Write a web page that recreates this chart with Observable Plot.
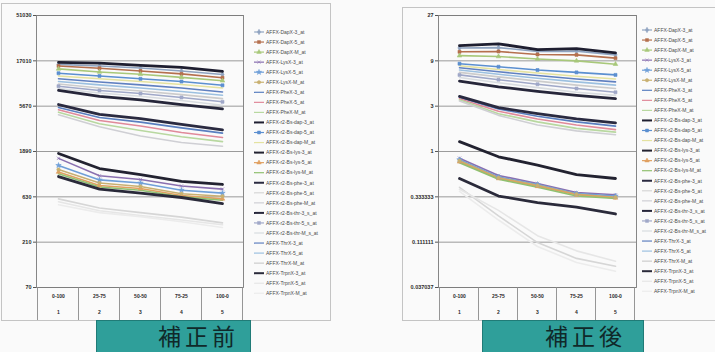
<!DOCTYPE html>
<html><head><meta charset="utf-8">
<script src="https://cdn.jsdelivr.net/npm/d3@7"></script>
<script src="https://cdn.jsdelivr.net/npm/@observablehq/plot@0.6"></script>
<style>
html,body{margin:0;padding:0;background:#fafafa;}
#wrap{position:relative;width:715px;height:352px;overflow:hidden;background:#fafafa;}
.box{position:absolute;border:1px solid #c4c4c4;box-sizing:border-box;}
.chart{position:absolute;top:0;}
.legend{position:absolute;}
.tag{position:absolute;top:320px;height:40px;background:#2f9f9a;border:1px solid #207b77;box-sizing:border-box;}
.tag span{position:absolute;top:-3px;color:#10292a;font-family:"Noto Sans CJK JP","Noto Sans CJK SC",sans-serif;
  font-size:23px;line-height:normal;letter-spacing:4px;white-space:nowrap;}
</style></head>
<body><div id="wrap"></div>
<script>
// ---- data ----
const categories = ["0-100", "25-75", "50-50", "75-25", "100-0"];
const categoryNumbers = ["1", "2", "3", "4", "5"];
const seriesNames = [
  "AFFX-DapX-3_at", "AFFX-DapX-5_at", "AFFX-DapX-M_at",
  "AFFX-LysX-3_at", "AFFX-LysX-5_at", "AFFX-LysX-M_at",
  "AFFX-PheX-3_at", "AFFX-PheX-5_at", "AFFX-PheX-M_at",
  "AFFX-r2-Bs-dap-3_at", "AFFX-r2-Bs-dap-5_at", "AFFX-r2-Bs-dap-M_at",
  "AFFX-r2-Bs-lys-3_at", "AFFX-r2-Bs-lys-5_at", "AFFX-r2-Bs-lys-M_at",
  "AFFX-r2-Bs-phe-3_at", "AFFX-r2-Bs-phe-5_at", "AFFX-r2-Bs-phe-M_at",
  "AFFX-r2-Bs-thr-3_s_at", "AFFX-r2-Bs-thr-5_s_at", "AFFX-r2-Bs-thr-M_s_at",
  "AFFX-ThrX-3_at", "AFFX-ThrX-5_at", "AFFX-ThrX-M_at",
  "AFFX-TrpnX-3_at", "AFFX-TrpnX-5_at", "AFFX-TrpnX-M_at"
];
const beforeTicks = [70, 210, 630, 1890, 5670, 17010, 51030];
const beforeTickLabels = ["70", "210", "630", "1890", "5670", "17010", "51030"];
const afterTicks = [0.037037, 0.111111, 0.333333, 1, 3, 9, 27];
const afterTickLabels = ["0.037037", "0.111111", "0.333333", "1", "3", "9", "27"];
const beforeTitle = "補正前";
const afterTitle = "補正後";

// 補正前 (one row per series, in seriesNames order)
const beforeValues = [
  [15600, 15000, 14300, 13300, 12200],
  [15000, 14200, 13300, 12400, 11300],
  [14000, 13000, 12300, 11400, 10500],
  [1600, 1050, 960, 820, 760],
  [1350, 950, 880, 740, 690],
  [1220, 880, 810, 680, 640],
  [5500, 4300, 3850, 3350, 2950],
  [5200, 4000, 3500, 3000, 2650],
  [4900, 3700, 3150, 2700, 2400],
  [16400, 16100, 15200, 14500, 13200],
  [12600, 11800, 11000, 10300, 9400],
  [11800, 11000, 10300, 9600, 8800],
  [1800, 1250, 1080, 915, 850],
  [1150, 830, 770, 650, 600],
  [1100, 800, 740, 630, 580],
  [5900, 4650, 4200, 3650, 3200],
  [600, 480, 430, 385, 335],
  [4600, 3450, 2750, 2350, 2150],
  [8300, 7200, 6600, 5900, 5300],
  [9200, 8300, 7700, 7000, 6300],
  [8700, 7800, 7200, 6500, 5800],
  [11000, 10200, 9500, 8800, 8000],
  [10300, 9500, 8800, 8100, 7400],
  [9700, 8800, 8200, 7500, 6800],
  [1030, 760, 690, 620, 535],
  [560, 450, 400, 360, 320],
  [520, 430, 390, 345, 300]
];
// 補正後
const afterValues = [
  [12.3, 12.4, 11.3, 11.4, 10.4],
  [11.2, 11.3, 10.5, 10.4, 9.6],
  [10.2, 10.0, 9.4, 9.0, 8.3],
  [0.85, 0.56, 0.46, 0.37, 0.35],
  [0.82, 0.54, 0.45, 0.36, 0.34],
  [0.80, 0.53, 0.44, 0.355, 0.33],
  [3.7, 2.8, 2.35, 2.05, 1.85],
  [3.6, 2.65, 2.2, 1.9, 1.7],
  [3.5, 2.5, 2.05, 1.75, 1.6],
  [13.0, 13.6, 11.8, 12.1, 10.9],
  [8.4, 7.8, 7.2, 6.8, 6.4],
  [8.0, 7.3, 6.7, 6.2, 5.8],
  [1.27, 0.88, 0.72, 0.57, 0.52],
  [0.78, 0.52, 0.43, 0.35, 0.325],
  [0.76, 0.51, 0.42, 0.34, 0.32],
  [3.8, 2.9, 2.5, 2.2, 2.0],
  [0.42, 0.21, 0.11, 0.075, 0.062],
  [3.4, 2.4, 1.9, 1.65, 1.5],
  [5.5, 4.8, 4.3, 3.9, 3.6],
  [6.4, 5.7, 5.1, 4.6, 4.2],
  [6.0, 5.3, 4.7, 4.2, 3.9],
  [7.6, 6.9, 6.3, 5.8, 5.4],
  [7.2, 6.5, 5.9, 5.4, 5.0],
  [6.8, 6.1, 5.5, 5.0, 4.6],
  [0.52, 0.34, 0.29, 0.26, 0.22],
  [0.40, 0.24, 0.13, 0.09, 0.07],
  [0.38, 0.19, 0.10, 0.068, 0.055]
];

// ---- styles ----
const seriesColors = [
  "#8fa3c0", "#b5704e", "#a8c87a", "#8a70b0", "#6f9fd8", "#c8b070",
  "#5a7fc0", "#e08a9a", "#b8d8a0", "#1e1e30", "#5b8fd0", "#e4e2a0",
  "#222230", "#e0a060", "#90c070", "#2a2a40", "#d6d6d6", "#cfcfd4",
  "#26263a", "#a0a8c8", "#d8dce0", "#6080c0", "#9cc0e0", "#cccccc",
  "#2a2a3a", "#e6e6e6", "#ececec"
];
const thickSeries = new Set([9, 12, 15, 18, 24]);
const markerSymbol = {0: "diamond", 1: "square", 2: "triangle", 3: "times", 4: "star", 5: "circle", 10: "square", 13: "triangle", 19: "square"};
const d3Symbols = {diamond: d3.symbolDiamond, square: d3.symbolSquare, triangle: d3.symbolTriangle, times: d3.symbolTimes, star: d3.symbolStar, circle: d3.symbolCircle};

const H = 322, MT = 15, MB = 35, BOXBOTTOM = 320;

function makeChart(values, ticks, labels, width, marginRight) {
  const rows = [];
  values.forEach((vals, s) => vals.forEach((v, j) => rows.push({series: seriesNames[s], idx: s, cat: categories[j], value: v})));
  const thin = rows.filter(r => !thickSeries.has(r.idx));
  const thick = rows.filter(r => thickSeries.has(r.idx));
  const syms = [...new Set(Object.values(markerSymbol))];
  const dotMarks = syms.map(sym => Plot.dot(rows.filter(r => markerSymbol[r.idx] === sym),
    {x: "cat", y: "value", stroke: "series", fill: "series", symbol: sym, r: 1.7, strokeWidth: 0.6}));
  const fmt = d => labels[ticks.indexOf(d)];
  const txt = {fontWeight: "bold", fill: "#2a2a2a"};
  const plot = Plot.plot({
    width, height: H, marginLeft: 36, marginRight, marginTop: MT, marginBottom: MB,
    style: {background: "transparent", fontFamily: "'Liberation Sans', Arial, sans-serif", fontSize: "5.5px", color: "#2a2a2a"},
    x: {type: "point", domain: categories, padding: 0.5, label: null},
    y: {type: "log", base: 3, domain: [ticks[0], ticks[ticks.length - 1]], label: null},
    color: {domain: seriesNames, range: seriesColors},
    marks: [
      Plot.ruleY(ticks, {stroke: "#8f8f8f", strokeWidth: 0.9}),
      Plot.frame({stroke: "#7a7a7a", strokeWidth: 0.9}),
      Plot.axisY(ticks, {tickSize: 3, tickPadding: 2, tickFormat: fmt, label: null, stroke: "#555", ...txt}),
      Plot.axisX({tickSize: 0, tickPadding: 6.5, fontSize: 5, label: null, ...txt}),
      Plot.axisX({tickSize: 0, tickPadding: 22.5, fontSize: 5, label: null, tickFormat: d => categoryNumbers[categories.indexOf(d)], ...txt}),
      Plot.line(thin, {x: "cat", y: "value", z: "series", stroke: "series", strokeWidth: 1.6}),
      ...dotMarks,
      Plot.line(thick, {x: "cat", y: "value", z: "series", stroke: "series", strokeWidth: 2.8})
    ]
  });
  // category table separators below the plot
  const xs = plot.scale("x");
  const step = xs.apply(categories[1]) - xs.apply(categories[0]);
  const edges = [xs.apply(categories[0]) - step / 2, ...categories.map(c => xs.apply(c) + step / 2)];
  d3.select(plot).append("g").selectAll("line").data(edges).join("line")
    .attr("x1", d => d).attr("x2", d => d).attr("y1", H - MB).attr("y2", BOXBOTTOM)
    .attr("stroke", "#8a8a8a").attr("stroke-width", 0.9);
  return plot;
}

function makeLegend() {
  const svg = d3.create("svg").attr("width", 80).attr("height", 280)
    .style("font-family", "'Liberation Sans', Arial, sans-serif").style("font-size", "5px");
  seriesNames.forEach((name, i) => {
    const g = svg.append("g").attr("transform", `translate(0,${5 + i * 10.05})`);
    const thick = thickSeries.has(i);
    g.append("line").attr("x1", 0).attr("x2", 10).attr("stroke", seriesColors[i]).attr("stroke-width", thick ? 2 : 1.2);
    if (markerSymbol[i] !== undefined) {
      g.append("path").attr("transform", "translate(5,0)")
        .attr("d", d3.symbol(d3Symbols[markerSymbol[i]], 9)())
        .attr("fill", seriesColors[i]).attr("stroke", seriesColors[i]).attr("stroke-width", 0.5);
    }
    g.append("text").attr("x", 12).attr("dy", "0.35em").attr("fill", "#4a4a4a").text(name);
  });
  return svg.node();
}

const wrap = document.getElementById("wrap");
function place(el, cls, left, top) {
  el.classList.add(cls);
  el.style.left = left + "px";
  if (top !== undefined) el.style.top = top + "px";
  wrap.appendChild(el);
  return el;
}
function box(left, top, w, h) {
  const d = document.createElement("div");
  d.className = "box";
  Object.assign(d.style, {left: left + "px", top: top + "px", width: w + "px", height: h + "px"});
  wrap.appendChild(d);
}
box(1, 3, 330, 318);
box(402, 7, 330, 314);

place(makeChart(beforeValues, beforeTicks, beforeTickLabels, 250, 7), "chart", 0);
place(makeChart(afterValues, afterTicks, afterTickLabels, 240, 6), "chart", 402);
place(makeLegend(), "legend", 254, 27);
place(makeLegend(), "legend", 642, 25);

function tag(text, left, width, textLeft) {
  const d = document.createElement("div");
  d.className = "tag";
  Object.assign(d.style, {left: left + "px", width: width + "px"});
  const s = document.createElement("span");
  s.style.left = textLeft + "px";
  s.textContent = text;
  d.appendChild(s);
  wrap.appendChild(d);
}
tag(beforeTitle, 96, 155, 61);
tag(afterTitle, 482, 162, 62);
</script>
</body></html>
